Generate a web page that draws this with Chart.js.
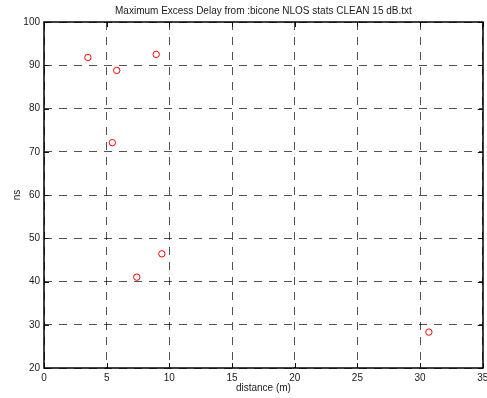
<!DOCTYPE html>
<html>
<head>
<meta charset="utf-8">
<script src="https://cdn.jsdelivr.net/npm/chart.js@4/dist/chart.umd.min.js"></script>
<style>
  html, body { margin: 0; padding: 0; background: #fff; }
  #wrap { width: 487px; height: 398px; }
</style>
</head>
<body>
<div id="wrap"><canvas id="c" width="487" height="398"></canvas></div>
<script>
// Measurement data: distance (m) vs maximum excess delay (ns)
const chartTitle = 'Maximum Excess Delay from :bicone NLOS stats CLEAN 15 dB.txt';
const distance = [3.5, 8.95, 5.8, 5.45, 9.4, 7.4, 30.7];
const delay = [91.8, 92.5, 88.8, 72.1, 46.4, 41.0, 28.3];
const xTicks = [0, 5, 10, 15, 20, 25, 30, 35];
const yTicks = [20, 30, 40, 50, 60, 70, 80, 90, 100];
const xLabel = 'distance (m)';
const yLabel = 'ns';

const FONT = "'Liberation Sans', Arial, sans-serif";
const TEXT = '#1a1a1a';

// Box frame, inward tick marks and the title above the plot
const framePlugin = {
  id: 'frame',
  afterDatasetsDraw(chart) {
    const { ctx, chartArea: a, scales } = chart;
    const tl = 5;
    ctx.save();
    ctx.strokeStyle = '#111';
    ctx.lineWidth = 1;
    ctx.setLineDash([]);
    ctx.beginPath();
    xTicks.forEach(v => {
      const px = Math.round(scales.x.getPixelForValue(v)) + 0.5;
      ctx.moveTo(px, a.bottom); ctx.lineTo(px, a.bottom - tl);
      ctx.moveTo(px, a.top); ctx.lineTo(px, a.top + tl);
    });
    yTicks.forEach(v => {
      const py = Math.round(scales.y.getPixelForValue(v)) + 0.5;
      ctx.moveTo(a.left, py); ctx.lineTo(a.left + tl, py);
      ctx.moveTo(a.right, py); ctx.lineTo(a.right - tl, py);
    });
    ctx.stroke();
    ctx.lineWidth = 1.5;
    ctx.strokeStyle = '#000';
    ctx.strokeRect(Math.round(a.left), Math.round(a.top),
                   Math.round(a.right - a.left), Math.round(a.bottom - a.top));
    ctx.restore();
  },
  afterDraw(chart) {
    const { ctx, chartArea: a } = chart;
    ctx.save();
    ctx.fillStyle = TEXT;
    ctx.font = '10px ' + FONT;
    ctx.textAlign = 'center';
    ctx.textBaseline = 'middle';
    ctx.fillText(chartTitle, (a.left + a.right) / 2, 11);
    ctx.restore();
  }
};

new Chart(document.getElementById('c'), {
  type: 'scatter',
  data: {
    datasets: [{
      data: distance.map((d, i) => ({ x: d, y: delay[i] })),
      showLine: false,
      pointStyle: 'circle',
      pointRadius: 3.2,
      pointHoverRadius: 3.2,
      pointBorderWidth: 1,
      pointBorderColor: '#ff0000',
      pointBackgroundColor: 'rgba(0,0,0,0)'
    }]
  },
  options: {
    responsive: false,
    animation: false,
    devicePixelRatio: 1,
    layout: { padding: { top: 22, right: 3, bottom: 0, left: 0 } },
    plugins: {
      legend: { display: false },
      tooltip: { enabled: false },
      title: { display: false }
    },
    scales: {
      x: {
        type: 'linear',
        min: 0, max: 35,
        afterBuildTicks: s => { s.ticks = xTicks.map(v => ({ value: v })); },
        afterFit: s => { s.height = 30; s.paddingLeft = 0; s.paddingRight = 0; },
        grid: { color: 'rgba(0,0,0,0.68)', lineWidth: 1, drawTicks: false },
        border: { display: false, dash: [8, 7] },
        ticks: { padding: 4, color: TEXT, font: { family: FONT, size: 10 }, maxRotation: 0, autoSkip: false },
        title: { display: true, text: xLabel, color: TEXT, font: { family: FONT, size: 10 }, padding: { top: 0, bottom: 4 } }
      },
      y: {
        type: 'linear',
        min: 20, max: 100,
        afterBuildTicks: s => { s.ticks = yTicks.map(v => ({ value: v })); },
        afterFit: s => { s.width = 44; s.paddingTop = 0; s.paddingBottom = 0; },
        grid: { color: 'rgba(0,0,0,0.68)', lineWidth: 1, drawTicks: false },
        border: { display: false, dash: [8, 7] },
        ticks: { padding: 4, color: TEXT, font: { family: FONT, size: 10 }, autoSkip: false },
        title: { display: true, text: yLabel, color: TEXT, font: { family: FONT, size: 10 }, padding: { top: 11, bottom: 0 } }
      }
    }
  },
  plugins: [framePlugin]
});
</script>
</body>
</html>
